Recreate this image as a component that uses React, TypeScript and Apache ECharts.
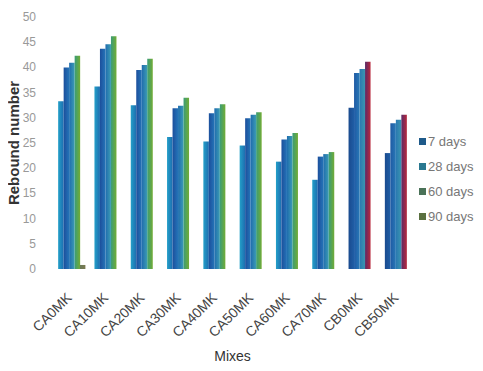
import React, { useEffect, useRef } from "react";
import * as echarts from "echarts";

const categories = ["CA0MK", "CA10MK", "CA20MK", "CA30MK", "CA40MK", "CA50MK", "CA60MK", "CA70MK", "CB0MK", "CB50MK"];
const days7 = [33.3, 36.2, 32.5, 26.2, 25.3, 24.5, 21.3, 17.7, 32.0, 23.0];
const days28 = [40.0, 43.7, 39.5, 31.9, 30.9, 29.9, 25.7, 22.3, 38.9, 28.9];
const days60 = [40.9, 44.6, 40.5, 32.4, 31.9, 30.6, 26.4, 22.8, 39.7, 29.6];
const days90 = [42.3, 46.2, 41.7, 34.0, 32.7, 31.1, 27.0, 23.2, 41.1, 30.6];
const extra = [0.8, "-", "-", "-", "-", "-", "-", "-", "-", "-"];
const seriesNames = ["7 days", "28 days", "60 days", "90 days"];
const redGroups = ["CB0MK", "CB50MK"];

const grad = (a: string, b: string) =>
  new echarts.graphic.LinearGradient(0, 0, 1, 0, [
    { offset: 0, color: a },
    { offset: 1, color: b },
  ]);

export default function App() {
  const ref = useRef<HTMLDivElement>(null);
  useEffect(() => {
    if (!ref.current) return;
    const chart = echarts.init(ref.current, null, { renderer: "svg" });
    const fills = [
      grad("#24a0c8", "#1d6db0"),
      grad("#1c4f9c", "#2474b8"),
      grad("#1f6cae", "#3c9cb4"),
      grad("#3a9c78", "#72ac34"),
    ];
    const cbFills = [
      grad("#1a4a8e", "#1f5ea6"),
      grad("#1f5aa4", "#2878b6"),
      grad("#2a78b0", "#3a96b0"),
      grad("#5a2a66", "#b8283c"),
    ];
    const legendColors = ["#1e5a8a", "#2a7890", "#4a7258", "#5a7040"];
    const arrays = [days7, days28, days60, days90];
    const series: any[] = arrays.map((arr, i) => ({
      name: seriesNames[i],
      type: "bar",
      xAxisIndex: 0,
      barWidth: 5.5,
      barGap: 0,
      itemStyle: { color: fills[i] },
      data: arr.map((v, j) =>
        redGroups.includes(categories[j]) ? { value: v, itemStyle: { color: cbFills[i] } } : v
      ),
    }));
    series.push({
      name: "spacer",
      type: "bar",
      xAxisIndex: 1,
      barWidth: 27,
      barGap: 0,
      data: categories.map(() => "-"),
    });
    series.push({
      name: "extra",
      type: "bar",
      xAxisIndex: 1,
      barWidth: 5.5,
      barGap: 0,
      itemStyle: { color: grad("#6a7a58", "#7a7a50") },
      data: extra,
    });
    chart.setOption({
      animation: false,
      textStyle: { fontFamily: "Liberation Sans" },
      grid: { left: 51, right: 69, top: 17, bottom: 102, outerBoundsMode: "none", containLabel: false },
      legend: {
        orient: "vertical",
        left: 414,
        top: 130,
        itemWidth: 7,
        itemHeight: 7,
        itemGap: 12,
        icon: "rect",
        textStyle: { color: "#777", fontSize: 13, padding: [0, 0, 0, -3] },
        data: seriesNames.map((n, i) => ({ name: n, itemStyle: { color: legendColors[i] } })),
      },
      xAxis: [
        {
          type: "category",
          data: categories,
          name: "Mixes",
          nameLocation: "middle",
          nameGap: 80,
          nameMoveOverlap: false,
          nameTextStyle: { color: "#333", fontSize: 14 },
          axisLine: { show: false },
          axisTick: { show: false },
          axisLabel: { rotate: 45, margin: 26, color: "#444", fontSize: 14, interval: 0 },
        },
        {
          type: "category",
          data: categories,
          show: false,
        },
      ],
      yAxis: {
        type: "value",
        min: 0,
        max: 50,
        interval: 5,
        name: "Rebound number",
        nameLocation: "middle",
        nameGap: 30,
        nameMoveOverlap: false,
        nameTextStyle: { color: "#333", fontSize: 15, fontWeight: "bold" },
        axisLine: { show: false },
        axisTick: { show: false },
        splitLine: { show: false },
        axisLabel: { color: "#999", fontSize: 12, margin: 15 },
      },
      series,
    });
    return () => chart.dispose();
  }, []);
  return <div ref={ref} style={{ width: 483, height: 371, margin: -8 }} />;
}
